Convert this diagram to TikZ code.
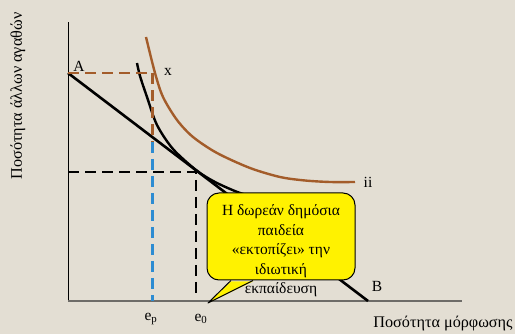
\documentclass[tikz,border=0pt]{standalone}
\usepackage{fontspec}
\setmainfont{Liberation Serif}
\definecolor{bgbeige}{RGB}{227,222,211}
\definecolor{icbrown}{RGB}{163,92,42}
\definecolor{epblue}{RGB}{45,140,210}
\definecolor{axisgray}{RGB}{110,108,104}
\begin{document}
\begin{tikzpicture}[x=1pt, y=-1pt, line join=round,
  lbl/.style={font=\fontsize{15.5}{18}\selectfont, inner sep=0pt},
  axlbl/.style={font=\fontsize{16.2}{19}\selectfont, inner sep=0pt},
  curve/.style={line width=2.4pt},
  guide/.style={line width=2.2pt, dash pattern=on 11pt off 6pt},
  bubble/.style={draw, fill=yellow, line width=1pt, rounded corners=12pt,
    minimum width=148pt, minimum height=87pt, inner sep=0pt},
  notetext/.style={font=\fontsize{15.5}{19.5}\selectfont, align=center, inner sep=0pt}]
  \fill[bgbeige] (0,0) rectangle (515,334);
  \useasboundingbox (0,0) rectangle (515,334);

  % axes
  \coordinate (O) at (68,301);
  \coordinate (ytop) at (68,22);
  \coordinate (xend) at (462,301);
  \draw[line width=1pt] (O) -- (ytop);
  \draw[axisgray, line width=1.5pt] (O) -- (xend);
  \node[axlbl, rotate=90] (ylab) at (18,96) {Ποσότητα άλλων αγαθών};
  \node[axlbl] (xlab) at (443,324) {Ποσότητα μόρφωσης};

  % budget line and indifference curves
  \coordinate (A) at (68,73);
  \coordinate (B) at (368,301);
  \draw[line width=2.6pt] (A) -- (B);
  \draw[curve] plot[smooth] coordinates {(137,63) (140,76) (147,97) (157,125)
    (173,149) (196,170) (215,182) (240,193) (265,200)};
  \draw[curve, icbrown] plot[smooth] coordinates {(146,37) (155,73) (163,97)
    (177,120) (193,137) (217,153) (250,168) (280,177) (305,180.5) (330,182) (355,182)};

  % dashed guides
  \coordinate (X) at (152.5,73);
  \coordinate (Xmid) at (152.5,142);
  \coordinate (ep) at (152.5,301);
  \coordinate (T) at (196,172);
  \coordinate (Ty) at (68,172);
  \coordinate (e0) at (196,294);
  \draw[guide, icbrown] (A) -- (X) -- (Xmid);
  \draw[guide, epblue] (Xmid) -- (ep);
  \draw[guide] (Ty) -- (T) -- (e0);

  % callout
  \node[bubble] (note) at (281,236.5) {};
  \coordinate (tip) at (208,303);
  \fill[yellow] ([xshift=-50pt,yshift=-1pt]note.south) -- (tip)
    -- ([xshift=-28pt,yshift=-1pt]note.south) -- cycle;
  \draw[line width=1pt] ([xshift=-50pt]note.south) -- (tip)
    -- ([xshift=-28pt]note.south);
  \node[notetext] (notetxt) at (281,251) {Η δωρεάν δημόσια\\παιδεία\\«εκτοπίζει» την\\ιδιωτική\\εκπαίδευση};

  % labels
  \node[lbl] (Alab) at (79,66) {A};
  \node[lbl] (xlabel) at (168,72) {x};
  \node[lbl] (iilab) at (368,182) {ii};
  \node[lbl] (Blab) at (377,286) {B};
  \node[lbl] (eplab) at (151,319) {e\textsubscript{p}};
  \node[lbl] (e0lab) at (201,319) {e\textsubscript{0}};
\end{tikzpicture}
\end{document}
